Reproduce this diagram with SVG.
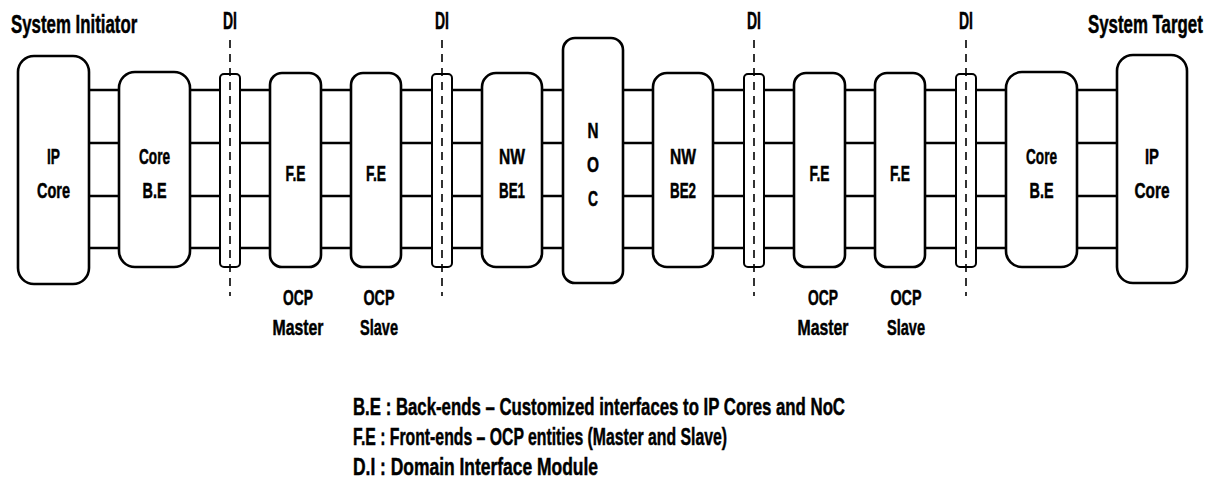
<svg xmlns="http://www.w3.org/2000/svg" width="1211" height="500" viewBox="0 0 1211 500">
<style>
.box{fill:#fff;stroke:#000;stroke-width:2.6}
.di{fill:#fff;stroke:#000;stroke-width:2}
.w{stroke:#000;stroke-width:2.6;fill:none}
.dash{stroke:#000;stroke-width:1.6;stroke-dasharray:8 6;fill:none}
text{font-family:"Liberation Sans",Arial,sans-serif;font-weight:bold;fill:#000;stroke:#000;stroke-width:0.5}
.t{font-size:22px;text-anchor:middle}
.d{font-size:24px;text-anchor:middle}
.h{font-size:25px}
.l{font-size:24px}
</style>
<rect width="1211" height="500" fill="#fff"/>
<g id="connectors">
<path class="w" d="M89 90H119M89 143H119M89 196H119M89 248H119"/>
<path class="w" d="M190 90H270M190 143H270M190 196H270M190 248H270"/>
<path class="w" d="M321 90H351M321 143H351M321 196H351M321 248H351"/>
<path class="w" d="M401 90H482M401 143H482M401 196H482M401 248H482"/>
<path class="w" d="M542 90H563M542 143H563M542 196H563M542 248H563"/>
<path class="w" d="M623 90H653M623 143H653M623 196H653M623 248H653"/>
<path class="w" d="M713 90H794M713 143H794M713 196H794M713 248H794"/>
<path class="w" d="M845 90H875M845 143H875M845 196H875M845 248H875"/>
<path class="w" d="M925 90H1006M925 143H1006M925 196H1006M925 248H1006"/>
<path class="w" d="M1077 90H1117M1077 143H1117M1077 196H1117M1077 248H1117"/>
</g>
<g id="ipcore-left">
<rect class="box" x="18" y="56" width="71" height="228" rx="16"/>
<text class="t" x="53.5" y="164" textLength="13" lengthAdjust="spacingAndGlyphs">IP</text>
<text class="t" x="53.5" y="198" textLength="33" lengthAdjust="spacingAndGlyphs">Core</text>
</g>
<g id="corebe-left">
<rect class="box" x="119" y="72" width="71" height="195" rx="16"/>
<text class="t" x="154.5" y="164" textLength="31" lengthAdjust="spacingAndGlyphs">Core</text>
<text class="t" x="154.5" y="198" textLength="24" lengthAdjust="spacingAndGlyphs">B.E</text>
</g>
<g id="di1">
<rect class="di" x="220" y="74" width="20" height="193" rx="4"/>
<path class="dash" d="M230 40V296"/>
<text class="d" x="230" y="29" textLength="14" lengthAdjust="spacingAndGlyphs">DI</text>
</g>
<g id="fe1">
<rect class="box" x="270" y="73" width="51" height="194" rx="12"/>
<text class="t" x="295.5" y="181" textLength="20" lengthAdjust="spacingAndGlyphs">F.E</text>
</g>
<g id="fe2">
<rect class="box" x="351" y="73" width="50" height="194" rx="12"/>
<text class="t" x="376" y="181" textLength="20" lengthAdjust="spacingAndGlyphs">F.E</text>
</g>
<g id="di2">
<rect class="di" x="432" y="74" width="20" height="193" rx="4"/>
<path class="dash" d="M442 40V296"/>
<text class="d" x="442" y="29" textLength="14" lengthAdjust="spacingAndGlyphs">DI</text>
</g>
<g id="nwbe1">
<rect class="box" x="482" y="73" width="60" height="194" rx="14"/>
<text class="t" x="512" y="164" textLength="26" lengthAdjust="spacingAndGlyphs">NW</text>
<text class="t" x="512" y="198" textLength="26" lengthAdjust="spacingAndGlyphs">BE1</text>
</g>
<g id="noc">
<rect class="box" x="563" y="38" width="60" height="245" rx="12"/>
<text class="t" x="593" y="138" textLength="11" lengthAdjust="spacingAndGlyphs">N</text>
<text class="t" x="593" y="172" textLength="12" lengthAdjust="spacingAndGlyphs">O</text>
<text class="t" x="593" y="206" textLength="10" lengthAdjust="spacingAndGlyphs">C</text>
</g>
<g id="nwbe2">
<rect class="box" x="653" y="73" width="60" height="194" rx="14"/>
<text class="t" x="683" y="164" textLength="26" lengthAdjust="spacingAndGlyphs">NW</text>
<text class="t" x="683" y="198" textLength="26" lengthAdjust="spacingAndGlyphs">BE2</text>
</g>
<g id="di3">
<rect class="di" x="744" y="74" width="20" height="193" rx="4"/>
<path class="dash" d="M754 40V296"/>
<text class="d" x="754" y="29" textLength="14" lengthAdjust="spacingAndGlyphs">DI</text>
</g>
<g id="fe3">
<rect class="box" x="794" y="73" width="51" height="194" rx="12"/>
<text class="t" x="819.5" y="181" textLength="20" lengthAdjust="spacingAndGlyphs">F.E</text>
</g>
<g id="fe4">
<rect class="box" x="875" y="73" width="50" height="194" rx="12"/>
<text class="t" x="900" y="181" textLength="20" lengthAdjust="spacingAndGlyphs">F.E</text>
</g>
<g id="di4">
<rect class="di" x="956" y="74" width="20" height="193" rx="4"/>
<path class="dash" d="M966 40V296"/>
<text class="d" x="966" y="29" textLength="14" lengthAdjust="spacingAndGlyphs">DI</text>
</g>
<g id="corebe-right">
<rect class="box" x="1006" y="72" width="71" height="195" rx="16"/>
<text class="t" x="1041.5" y="164" textLength="31" lengthAdjust="spacingAndGlyphs">Core</text>
<text class="t" x="1041.5" y="198" textLength="24" lengthAdjust="spacingAndGlyphs">B.E</text>
</g>
<g id="ipcore-right">
<rect class="box" x="1117" y="55" width="70" height="228" rx="16"/>
<text class="t" x="1152" y="164" textLength="14" lengthAdjust="spacingAndGlyphs">IP</text>
<text class="t" x="1152" y="198" textLength="35" lengthAdjust="spacingAndGlyphs">Core</text>
</g>
<g id="labels">
<text class="h" transform="translate(11,33) scale(0.674,1)" x="0" y="0">System Initiator</text>
<text class="h" transform="translate(1088,33) scale(0.674,1)" x="0" y="0">System Target</text>
<text class="t" x="298" y="305" textLength="30" lengthAdjust="spacingAndGlyphs">OCP</text>
<text class="t" x="298" y="335" textLength="51" lengthAdjust="spacingAndGlyphs">Master</text>
<text class="t" x="379" y="305" textLength="31" lengthAdjust="spacingAndGlyphs">OCP</text>
<text class="t" x="379" y="335" textLength="38" lengthAdjust="spacingAndGlyphs">Slave</text>
<text class="t" x="823" y="305" textLength="30" lengthAdjust="spacingAndGlyphs">OCP</text>
<text class="t" x="823" y="335" textLength="51" lengthAdjust="spacingAndGlyphs">Master</text>
<text class="t" x="906" y="305" textLength="31" lengthAdjust="spacingAndGlyphs">OCP</text>
<text class="t" x="906" y="335" textLength="38" lengthAdjust="spacingAndGlyphs">Slave</text>
</g>
<g id="legend">
<text class="l" x="353" y="415" textLength="492" lengthAdjust="spacingAndGlyphs">B.E : Back-ends – Customized interfaces to IP Cores and NoC</text>
<text class="l" x="353" y="445" textLength="374" lengthAdjust="spacingAndGlyphs">F.E : Front-ends – OCP entities (Master and Slave)</text>
<text class="l" x="353" y="475" textLength="245" lengthAdjust="spacingAndGlyphs">D.I : Domain Interface Module</text>
</g>
</svg>
